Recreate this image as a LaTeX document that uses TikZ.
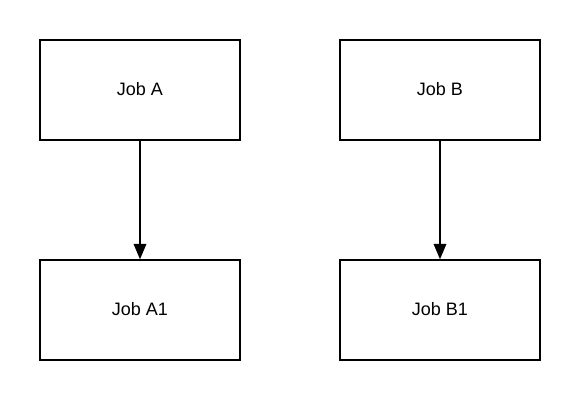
\documentclass[tikz,border=0pt]{standalone}
\usepackage{fontspec}
\setmainfont{Liberation Sans}
\usetikzlibrary{arrows.meta}

\begin{document}
\begin{tikzpicture}[x=0.025cm,y=-0.025cm,
	job/.style={draw,line width=1pt,minimum width=5cm,minimum height=2.5cm,font=\fontsize{12.8}{15}\selectfont},
	link/.style={-{Triangle[length=11pt,width=9pt]},line width=1.2pt}]
	\useasboundingbox (0,0) rectangle (580,400);
	
	\node [job] (jobA) at (140,90) {\raisebox{1.5pt}{Job A}};
	\node [job] (jobB) at (440,90) {\raisebox{1.5pt}{Job B}};
	
	\node [job] (jobA1) at (140,310) {\raisebox{1.5pt}{Job A1}};
	\node [job] (jobB1) at (440,310) {\raisebox{1.5pt}{Job B1}};
	
	\draw [link] (jobA) -- (jobA1);
	\draw [link] (jobB) -- (jobB1);
\end{tikzpicture}
\end{document}
